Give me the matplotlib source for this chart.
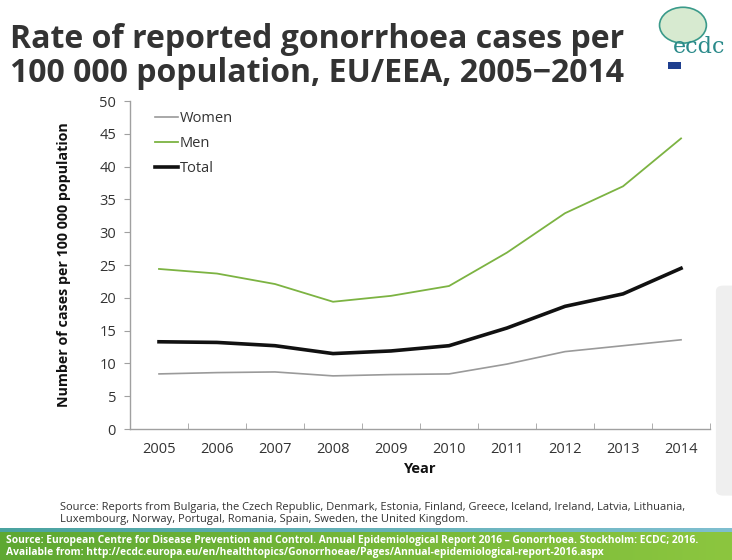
import numpy as np
import matplotlib
matplotlib.use("Agg")
import matplotlib.pyplot as plt
from matplotlib.patches import FancyBboxPatch, Rectangle, Circle

years = [2005, 2006, 2007, 2008, 2009, 2010, 2011, 2012, 2013, 2014]
women = [8.4, 8.6, 8.7, 8.1, 8.3, 8.4, 9.9, 11.8, 12.7, 13.6]
men = [24.4, 23.7, 22.1, 19.4, 20.3, 21.8, 26.9, 32.9, 37.0, 44.3]
total = [13.3, 13.2, 12.7, 11.5, 11.9, 12.7, 15.4, 18.7, 20.6, 24.5]
yticks = [0, 5, 10, 15, 20, 25, 30, 35, 40, 45, 50]

plt.rcParams["font.family"] = ["Open Sans", "DejaVu Sans"]

fig = plt.figure(figsize=(7.32, 5.6), dpi=100)
fig.patch.set_facecolor("white")

# title
fig.text(0.014, 0.915, "Rate of reported gonorrhoea cases per", fontsize=23,
         fontweight="bold", color="#333333", va="baseline")
fig.text(0.014, 0.853, "100 000 population, EU/EEA, 2005\u22122014", fontsize=23,
         fontweight="bold", color="#333333", va="baseline")

# logo (simplified)
fig.patches.append(Circle((0.933, 0.955), 0.032, transform=fig.transFigure,
                          facecolor="#d7ead0", edgecolor="#3a9a8a", lw=1.2))
fig.text(0.955, 0.905, "ecdc", fontsize=16, color="#2a8a8a", ha="center",
         va="baseline", family="DejaVu Serif")
fig.patches.append(Rectangle((0.912, 0.876), 0.018, 0.013, transform=fig.transFigure,
                             facecolor="#1f3f8f", edgecolor="none"))

# grey side panel
fig.patches.append(FancyBboxPatch((0.978, 0.115), 0.05, 0.375, transform=fig.transFigure,
                                  boxstyle="round,pad=0,rounding_size=0.01",
                                  facecolor="#efefef", edgecolor="none"))

ax = fig.add_axes([0.1776, 0.2339, 0.7924, 0.5857])
ax.plot(years, women, color="#9a9a9a", lw=1.2, label="Women")
ax.plot(years, men, color="#7cb342", lw=1.3, label="Men")
ax.plot(years, total, color="#111111", lw=2.6, label="Total")

ax.set_xlim(2004.5, 2014.5)
ax.set_ylim(0, 50)
ax.set_yticks(yticks)
ax.set_xticks(years)
ax.set_xticks([y + 0.5 for y in [2004] + years], minor=True)
ax.tick_params(axis="x", which="major", length=0, pad=9, labelsize=10.5, labelcolor="#333333")
ax.tick_params(axis="x", which="minor", length=4, color="#a0a0a0", direction="in")
ax.tick_params(axis="y", length=4, color="#a0a0a0", direction="out", labelsize=10.5,
               labelcolor="#333333", pad=6)
for s in ["top", "right"]:
    ax.spines[s].set_visible(False)
for s in ["left", "bottom"]:
    ax.spines[s].set_color("#a0a0a0")
    ax.spines[s].set_linewidth(1.0)

ax.set_xlabel("Year", fontsize=10.5, fontweight="bold", color="#111111", labelpad=4)
ax.set_ylabel("Number of cases per 100 000 population", fontsize=10.3, fontweight="bold",
              color="#111111", labelpad=20)

leg = ax.legend(loc="upper left", bbox_to_anchor=(0.02, 1.01), frameon=False,
                fontsize=10.5, handlelength=1.6, handletextpad=0.1, labelspacing=0.7)
for t in leg.get_texts():
    t.set_color("#333333")

# source note
fig.text(0.082, 0.083, "Source: Reports from Bulgaria, the Czech Republic, Denmark, Estonia, Finland, "
         "Greece, Iceland, Ireland, Latvia, Lithuania,\nLuxembourg, Norway, Portugal, Romania, "
         "Spain, Sweden, the United Kingdom.", fontsize=8, color="#333333",
         va="center", linespacing=1.2)

# footer bars
band = fig.add_axes([0, 0.05, 1, 0.008])
band.imshow(np.linspace(0, 1, 256)[None, :], aspect="auto",
            cmap=matplotlib.colors.LinearSegmentedColormap.from_list("b", ["#4aa3a0", "#7fbfd0"]))
band.axis("off")
foot = fig.add_axes([0, 0, 1, 0.05])
foot.imshow(np.linspace(0, 1, 256)[None, :], aspect="auto",
            cmap=matplotlib.colors.LinearSegmentedColormap.from_list("g", ["#5ea832", "#8cc63f"]))
foot.axis("off")
fig.text(0.008, 0.024, "Source: European Centre for Disease Prevention and Control. Annual "
         "Epidemiological Report 2016 \u2013 Gonorrhoea. Stockholm: ECDC; 2016.\nAvailable from: "
         "http://ecdc.europa.eu/en/healthtopics/Gonorrhoeae/Pages/Annual-epidemiological-report-2016.aspx",
         fontsize=7.4, fontweight="bold", color="white", va="center", linespacing=1.15)

fig.savefig("out.png", dpi=100)
